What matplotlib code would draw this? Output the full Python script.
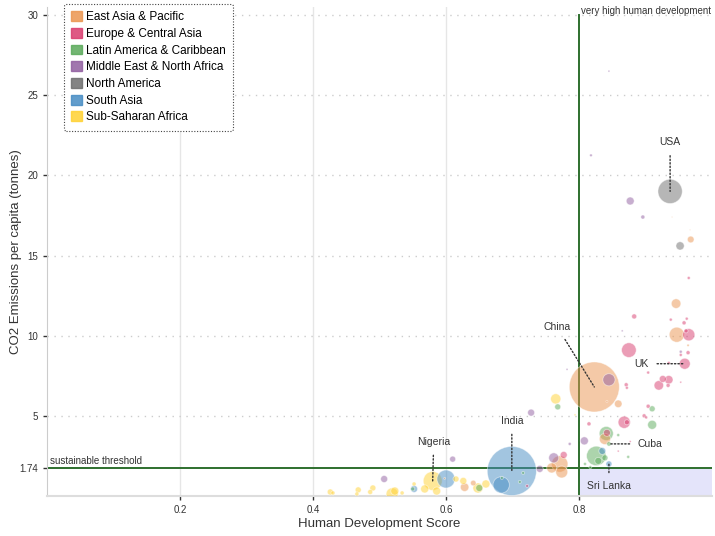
import numpy as np
import matplotlib
matplotlib.use("Agg")
import matplotlib.pyplot as plt
from matplotlib.patches import Patch

plt.rcParams['font.family'] = ['Liberation Sans', 'DejaVu Sans']

# ---------------- data ----------------
region_names = ["East Asia & Pacific", "Europe & Central Asia", "Latin America & Caribbean",
                "Middle East & North Africa", "North America", "South Asia", "Sub-Saharan Africa"]
region_colors = ["#EB9550", "#D93C6E", "#5AAA5A", "#915FA0", "#6E6E6E", "#468CC3", "#FFD232"]

# HDI, CO2 per capita (t), population (millions), region index
hdi = [
    # North America
    0.937, 0.952,
    # East Asia & Pacific
    0.823, 0.947, 0.946, 0.968, 0.940, 0.964, 0.859, 0.842, 0.839, 0.771, 0.759, 0.774,
    0.598, 0.628, 0.641, 0.967,
    # Europe & Central Asia
    0.875, 0.965, 0.959, 0.920, 0.926, 0.935, 0.934, 0.883, 0.965, 0.938, 0.958, 0.962,
    0.961, 0.964, 0.953, 0.935, 0.904, 0.953, 0.871, 0.872, 0.904, 0.898, 0.901, 0.868,
    0.872, 0.815, 0.842, 0.777, 0.877, 0.859, 0.722,
    # Latin America & Caribbean
    0.841, 0.826, 0.829, 0.839, 0.817, 0.845, 0.910, 0.910, 0.768, 0.859, 0.874, 0.809,
    0.716, 0.684, 0.711, 0.650, 0.550,
    # Middle East & North Africa
    0.845, 0.818, 0.877, 0.896, 0.845, 0.782, 0.865, 0.953, 0.728, 0.808, 0.786, 0.762,
    0.741, 0.610, 0.507,
    # South Asia
    0.699, 0.683, 0.600, 0.835, 0.845, 0.552,
    # Sub-Saharan Africa
    0.580, 0.765, 0.794, 0.568, 0.586, 0.615, 0.626, 0.660, 0.648, 0.519, 0.523, 0.534,
    0.552, 0.490, 0.486, 0.468, 0.466, 0.426, 0.430,
]
co2 = [
    19.0, 15.6,
    6.80, 10.06, 12.0, 16.0, 17.4, 9.40, 5.75, 5.90, 3.56, 2.00, 1.75, 1.50,
    1.10, 0.55, 0.81, 16.6,
    9.10, 10.06, 8.25, 6.90, 7.30, 7.25, 6.90, 11.2, 13.6, 11.0, 10.8, 11.06,
    10.3, 8.94, 8.80, 8.30, 7.70, 7.10, 6.94, 6.75, 5.60, 5.00, 4.90, 4.60,
    4.60, 4.50, 3.94, 2.56, 3.40, 2.80, 0.63,
    3.90, 2.50, 2.19, 2.38, 1.80, 3.25, 4.44, 5.44, 5.56, 3.80, 2.44, 2.00,
    1.44, 1.13, 0.88, 0.50, 0.44,
    26.5, 21.25, 18.4, 17.4, 7.25, 7.90, 10.3, 9.00, 5.20, 3.44, 3.25, 2.38,
    1.69, 2.30, 1.06,
    1.56, 0.69, 1.06, 2.81, 2.00, 0.44,
    0.94, 6.06, 5.06, 0.44, 0.31, 1.06, 0.94, 0.75, 0.50, 0.13, 0.31, 0.19,
    0.75, 0.50, 0.25, 0.38, 0.13, 0.25, 0.19,
]
population = [
    330, 38,
    1400, 126, 51, 25, 0.5, 3, 32, 2, 70, 150, 56, 80,
    2, 40, 17, 0.5,
    120, 83, 67, 50, 27, 40, 9, 14, 5, 5, 9, 5,
    9, 9, 5, 5, 5, 2, 9, 5, 9, 9, 5, 83,
    14, 9, 27, 27, 2, 2, 5,
    110, 212, 27, 20, 5, 11, 45, 20, 20, 5, 5, 5,
    5, 5, 5, 27, 9,
    2, 4, 35, 9, 83, 2, 2, 5, 27, 36, 5, 56,
    27, 20, 27,
    1350, 150, 181, 27, 20, 27,
    200, 58, 2, 36, 36, 20, 27, 36, 56, 81, 36, 9,
    9, 20, 14, 20, 9, 20, 9,
]
region = (
    [4] * 2 + [0] * 16 + [1] * 31 + [2] * 17 + [3] * 15 + [5] * 6 + [6] * 19
)

# annotations: label, index into arrays, text offset in pixels (dx, dy)
label_names = ["USA", "China", "India", "Nigeria", "UK", "Cuba", "Sri Lanka"]
label_index = [0, 2, 81, 87, 20, 54, 85]
label_offsets = [(0, 49), (-37, 60), (0, 50), (1, 39), (-36, 0), (29, 0), (0, -22)]

threshold_co2 = 1.74
threshold_hdi = 0.8

# ---------------- figure ----------------
W, H = 715, 536
fig = plt.figure(figsize=(W / 100, H / 100), dpi=100)
ax = fig.add_axes([47 / W, (H - 496) / H, 665 / W, 489 / H])
ax.set_xlim(0, 1.0)
ax.set_ylim(0, 30.5)

# grids
for v in [0.2, 0.4, 0.6]:
    ax.axvline(v, color="#e6e6e6", lw=1, zorder=0)
for v in [5, 10, 15, 20, 25, 30]:
    ax.axhline(v, color="#cccccc", lw=1, ls=(0, (1, 4)), zorder=0)

# shaded sustainable development quadrant
ax.axvspan(threshold_hdi, 1.0, ymin=0, ymax=threshold_co2 / 30.5, color="#e4e4fa", zorder=0.5, lw=0)

# bubbles
hdi_a = np.array(hdi)
co2_a = np.array(co2)
pop_a = np.array(population)
reg_a = np.array(region)


def bubble_size(p):
    r_px = 25 * np.sqrt(p / 1400.0)
    d_pt = 2 * r_px * 72 / 100
    return d_pt ** 2


order = np.argsort(-pop_a)
cols = [region_colors[r] for r in reg_a[order]]
ax.scatter(hdi_a[order], co2_a[order], s=bubble_size(pop_a[order]), c=cols, alpha=0.5,
           edgecolors="white", linewidths=0.6, zorder=3)

# threshold lines
ax.axhline(threshold_co2, color="#2e6f2e", lw=1.4, zorder=2)
ax.axvline(threshold_hdi, ymin=0, ymax=30 / 30.5, color="#2e6f2e", lw=1.4, zorder=2)
ax.text(0.005, threshold_co2 + 0.15, "sustainable threshold", fontsize=7, color="#333333",
        va="bottom", ha="left")
ax.text(threshold_hdi + 0.003, 30.25, "very high human development", fontsize=7,
        color="#333333", va="center", ha="left")

# annotations
for name, idx, (dx, dy) in zip(label_names, label_index, label_offsets):
    if dx < 0 and dy == 0:
        ha = "right"
    elif dx > 0 and dy == 0:
        ha = "left"
    else:
        ha = "center"
    ax.annotate(name, xy=(hdi[idx], co2[idx]), xytext=(dx * 0.72, dy * 0.72),
                textcoords="offset points", ha=ha, va="center", fontsize=7.5, color="#333333",
                arrowprops=dict(arrowstyle="-", ls=(0, (1, 1.5)), color="#333333", lw=1,
                                shrinkA=4, shrinkB=0),
                zorder=5)

# axes styling
for s in ["top", "right"]:
    ax.spines[s].set_visible(False)
ax.spines["left"].set_color("#cccccc")
ax.spines["bottom"].set_color("#dddddd")
ax.spines["bottom"].set_linewidth(1.5)
ax.set_xticks([0.2, 0.4, 0.6, 0.8])
ax.set_xticklabels(["0.2", "0.4", "0.6", "0.8"])
ax.set_yticks([1.74, 5, 10, 15, 20, 25, 30])
ax.set_yticklabels(["1.74", "5", "10", "15", "20", "25", "30"])
ax.tick_params(axis="both", labelsize=7, colors="#333333", length=3, width=1)
ax.set_xlabel("Human Development Score", fontsize=9.5, color="#333333")
ax.set_ylabel("CO2 Emissions per capita (tonnes)", fontsize=9.5, color="#333333")
ax.xaxis.set_label_coords(0.5, -0.044)
ax.yaxis.set_label_coords(-0.038, 0.5)

# legend
handles = [Patch(facecolor=c, edgecolor=c, alpha=0.85, label=n) for c, n in zip(region_colors, region_names)]
leg = fig.legend(handles=handles, loc="upper left", bbox_to_anchor=(64 / W, 1 - 4 / H),
                 fontsize=8.5, frameon=True, handlelength=0.9, handleheight=0.9,
                 handletextpad=0.4, labelspacing=0.4, borderpad=0.6, borderaxespad=0,
                 fancybox=True)
frame = leg.get_frame()
frame.set_linestyle((0, (1, 1.5)))
frame.set_edgecolor("#444444")
frame.set_linewidth(0.8)
frame.set_facecolor("white")
frame.set_alpha(1)

fig.savefig("out.png", dpi=100)
